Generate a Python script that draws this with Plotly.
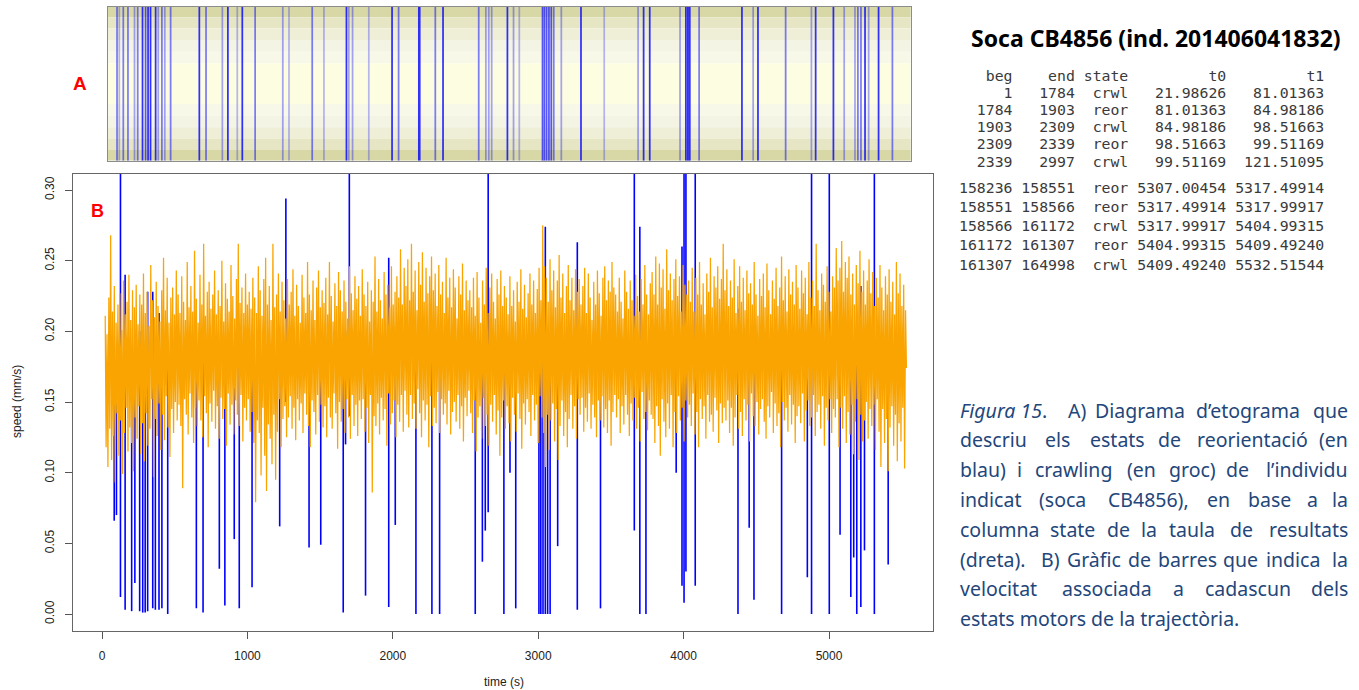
import plotly.graph_objects as go

W, H = 1359, 690

# ---------------- data ----------------
t_start, t_end = 21.98626, 5532.51544

# crawling speed, thousandths of mm/s, successive peaks / troughs of the orange trace
crwl_speed_milli = [
    211,118,198,104,224,131,268,109,214,126,232,93,206,142,219,112,227,137,201,99,
    236,128,212,146,221,115,240,132,208,121,229,101,217,139,233,124,205,147,226,113,
    219,135,241,108,213,142,228,119,204,131,247,152,222,97,210,138,235,126,218,149,
    207,116,229,141,252,123,215,154,238,132,206,111,224,145,231,128,212,150,243,137,
    226,148,213,133,239,89,221,152,208,141,249,127,217,156,232,139,214,121,257,146,
    223,133,206,151,240,137,219,125,262,154,211,142,228,118,235,149,216,136,226,158,
    243,131,212,147,229,124,218,153,250,138,207,145,234,119,223,156,214,134,247,148,
    225,127,209,151,237,141,262,133,220,155,231,122,213,146,241,137,219,152,228,129,
    216,143,238,121,224,79,213,137,246,128,229,98,211,146,237,112,252,87,219,134,
    232,124,208,106,262,141,217,95,226,129,241,152,214,118,235,138,222,147,209,125,
    237,139,219,154,228,131,244,146,211,123,233,152,218,137,206,149,240,128,224,156,
    213,141,249,133,226,118,215,151,236,143,208,127,231,155,243,136,217,148,229,132,
    220,147,238,125,212,153,249,139,225,131,207,156,234,142,218,117,242,150,229,136,
    214,145,236,128,221,152,209,139,246,124,227,155,215,133,239,148,223,126,232,151,
    211,138,244,152,226,129,218,146,235,121,207,155,229,86,221,140,253,133,214,149,
    237,127,222,153,209,137,242,145,226,119,233,156,217,134,246,142,219,151,228,125,
    239,148,224,136,258,155,219,129,245,158,232,141,251,132,222,155,262,138,228,149,
    243,131,215,159,249,142,233,125,256,151,221,137,245,148,227,118,239,154,253,133,
    229,146,241,135,218,157,247,128,226,152,235,141,213,149,252,134,224,158,238,127,
    217,143,244,150,231,136,209,155,239,131,226,147,248,122,215,153,236,140,222,158,
    229,142,217,128,238,151,211,115,242,139,224,147,206,124,236,153,219,133,245,141,
    213,119,231,148,241,136,221,155,209,127,237,144,226,112,243,139,218,151,232,131,
    224,147,212,135,239,122,218,153,229,141,207,129,235,156,221,138,244,117,216,149,
    233,134,210,152,227,143,241,126,219,155,236,137,213,148,230,121,245,154,222,139,
    275,128,246,104,238,141,221,116,251,137,229,149,243,122,217,145,236,109,254,133,
    224,151,241,126,213,143,232,118,247,138,222,155,238,131,215,147,244,124,228,152,
    237,141,219,153,232,129,245,146,213,136,241,156,224,131,208,148,235,139,219,125,
    243,151,227,137,211,154,238,132,246,145,222,128,236,151,228,119,249,143,231,155,
    226,139,214,152,238,128,221,147,209,134,243,155,228,141,216,126,236,149,222,137,
    211,153,240,131,225,146,214,122,237,157,219,138,247,143,226,130,212,151,234,141,
    242,138,226,121,253,147,219,133,248,112,231,152,244,136,216,125,258,149,229,131,
    241,155,222,118,237,143,251,128,225,154,239,137,214,146,247,122,233,151,226,139,
    236,148,221,133,245,156,214,127,238,143,226,118,249,152,219,138,234,147,212,124,
    241,155,228,136,252,141,217,129,239,153,231,144,246,121,223,149,237,135,262,146,
    229,137,244,151,218,128,236,146,224,119,251,139,213,155,232,131,246,143,221,126,
    238,152,215,137,243,148,227,122,234,156,219,140,249,133,226,150,211,127,237,145,
    225,152,241,136,217,124,248,147,229,139,212,157,236,128,223,149,245,133,218,142,
    231,118,253,150,222,137,239,146,214,129,244,155,226,134,235,148,219,121,247,140,
    231,147,216,135,243,156,227,122,238,144,212,151,249,133,224,139,236,155,218,126,
    262,143,229,148,215,131,241,154,233,119,221,146,246,137,228,152,214,128,239,145,
    231,139,259,152,236,118,245,146,264,131,228,154,249,121,238,143,253,127,226,148,
    241,113,219,136,247,152,234,109,257,141,228,122,243,137,219,150,236,124,251,145,
    227,133,242,148,218,116,238,152,224,129,247,104,231,145,215,121,239,138,226,101,
    244,132,221,147,235,119,212,141,249,108,227,135,241,122,218,146,233,103,215,174,
]

# reorientation events: start time (s), duration (s), min / max speed (mm/s)
reor_t = [82, 99, 125, 157, 203, 224, 255, 277, 292, 310, 345, 366, 390, 411, 450,
          645, 693, 806, 841, 909, 940, 1030, 1221, 1264, 1422, 1504, 1655, 1674, 1700,
          1812, 1968, 2015, 2150, 2267, 2318, 2565, 2615, 2635, 2655, 2760, 2805, 2845,
          3002, 3015, 3030, 3046, 3062, 3080, 3133, 3265, 3428, 3660, 3695, 3737, 3948,
          3983, 3996, 4010, 4078, 4370, 4450, 4480, 4672, 4850, 4876, 4998, 5075, 5149,
          5168, 5189, 5215, 5243, 5307, 5405]
reor_dur = [4, 1, 4, 4, 2, 4, 8, 6, 10, 8, 8, 2, 4, 2, 4,
            8, 4, 2, 8, 1, 8, 4, 2, 1, 4, 1, 8, 2, 2,
            1, 8, 4, 18, 4, 8, 4, 2, 2, 2, 8, 2, 1,
            6, 6, 6, 6, 6, 4, 2, 8, 1, 2, 8, 8, 2,
            12, 14, 12, 4, 8, 2, 8, 4, 2, 8, 8, 2, 2,
            4, 4, 8, 2, 10, 4]
reor_lo = [0.066, 0.070, 0.012, 0.003, 0.002, 0.022, 0.002, 0.001, 0.001, 0.002, 0.004, 0.003, 0.003, 0.004, 0.000,
           0.004, 0.001, 0.032, 0.006, 0.053, 0.004, 0.019, 0.062, 0.150, 0.047, 0.049, 0.001, 0.120, 0.140,
           0.013, 0.005, 0.063, 0.000, 0.000, 0.000, 0.000, 0.037, 0.059, 0.072, 0.000, 0.100, 0.004,
           0.000, 0.000, 0.000, 0.000, 0.000, 0.000, 0.048, 0.003, 0.004, 0.059, 0.000, 0.000, 0.100,
           0.020, 0.008, 0.030, 0.020, 0.000, 0.061, 0.010, 0.000, 0.026, 0.000, 0.000, 0.056, 0.012,
           0.040, 0.000, 0.005, 0.045, 0.000, 0.035]
reor_hi = [0.17, 0.16, 0.32, 0.240, 0.18, 0.19, 0.20, 0.17, 0.19, 0.228, 0.228, 0.17, 0.213, 0.16, 0.18,
           0.19, 0.18, 0.17, 0.19, 0.16, 0.20, 0.17, 0.18, 0.294, 0.18, 0.17, 0.19, 0.20, 0.32,
           0.17, 0.252, 0.18, 0.19, 0.18, 0.20, 0.18, 0.17, 0.18, 0.32, 0.19, 0.18, 0.17,
           0.20, 0.19, 0.21, 0.274, 0.20, 0.19, 0.18, 0.263, 0.17, 0.32, 0.274, 0.20, 0.19,
           0.26, 0.32, 0.32, 0.32, 0.216, 0.18, 0.19, 0.18, 0.19, 0.32, 0.32, 0.18, 0.17,
           0.19, 0.20, 0.232, 0.17, 0.32, 0.19]

x_ticks = [0, 1000, 2000, 3000, 4000, 5000]
y_ticks = [0.00, 0.05, 0.10, 0.15, 0.20, 0.25, 0.30]

tab_header = ["beg", "end", "state", "t0", "t1"]
tab_head_rows = [
    ["1", "1784", "crwl", "21.98626", "81.01363"],
    ["1784", "1903", "reor", "81.01363", "84.98186"],
    ["1903", "2309", "crwl", "84.98186", "98.51663"],
    ["2309", "2339", "reor", "98.51663", "99.51169"],
    ["2339", "2997", "crwl", "99.51169", "121.51095"],
]
tab_tail_rows = [
    ["158236", "158551", "reor", "5307.00454", "5317.49914"],
    ["158551", "158566", "reor", "5317.49914", "5317.99917"],
    ["158566", "161172", "crwl", "5317.99917", "5404.99315"],
    ["161172", "161307", "reor", "5404.99315", "5409.49240"],
    ["161307", "164998", "crwl", "5409.49240", "5532.51544"],
]

title_text = "Soca CB4856 (ind. 201406041832)"

# ---------------- figure ----------------
fig = go.Figure()

crwl_speed = [v / 1000 for v in crwl_speed_milli]
n = len(crwl_speed)
step = (t_end - t_start) / (n - 1)
crwl_t = [t_start + i * step for i in range(n)]

bx, by = [], []
for t, d, lo, hi in zip(reor_t, reor_dur, reor_lo, reor_hi):
    c = t + d / 2
    bx += [c, c, None]
    by += [lo, hi, None]
fig.add_trace(go.Scatter(x=bx, y=by, mode="lines",
                         line=dict(color="#0000FF", width=1.6),
                         hoverinfo="skip", showlegend=False, xaxis="x", yaxis="y"))

fig.add_trace(go.Scatter(x=crwl_t, y=crwl_speed, mode="lines",
                         line=dict(color="#F9A400", width=1.25),
                         hoverinfo="skip", showlegend=False, xaxis="x", yaxis="y"))

# invisible trace so the ethogram axes exist
fig.add_trace(go.Scatter(x=[t_start, t_end], y=[0, 1], mode="markers",
                         marker=dict(opacity=0), hoverinfo="skip", showlegend=False,
                         xaxis="x2", yaxis="y2"))

# ethogram background bands (top -> centre -> bottom)
A_top, A_bot = 6.7, 160.7
band_px = [6.7, 17.3, 28.3, 40.0, 51.7, 63.3, 104.0, 115.7, 127.3, 139.0, 150.0, 160.7]
band_col = ["#d8d8a6", "#e6e6c4", "#efefd8", "#f4f4e4", "#f8f8e8", "#fdfde2",
            "#f8f8e8", "#f4f4e4", "#efefd8", "#e6e6c4", "#d8d8a6"]
shapes = []
for i, col in enumerate(band_col):
    y0 = (A_bot - band_px[i + 1]) / (A_bot - A_top)
    y1 = (A_bot - band_px[i]) / (A_bot - A_top)
    shapes.append(dict(type="rect", xref="x2 domain", yref="y2", x0=0, x1=1, y0=y0, y1=y1,
                       fillcolor=col, line=dict(width=0), layer="below"))

# ethogram reorientation stripes (drawn in time coordinates of axis x2)
for t, d in zip(reor_t, reor_dur):
    c = t + d / 2
    w = max(d, 12)
    a = min(0.8, 0.2 + 0.075 * d)
    shapes.append(dict(type="rect", xref="x2", yref="y2", x0=c - w / 2, x1=c + w / 2,
                       y0=0, y1=1, fillcolor="rgba(0,0,255,%.2f)" % a,
                       line=dict(width=0), layer="below"))

# B axes geometry
B_left, B_right, B_top, B_bot = 73, 933, 173.5, 631
px0, px_per = 102, 0.1454
py0, py_per = 614, 1413.3
xr = [(B_left - px0) / px_per, (B_right - px0) / px_per]
yr = [(py0 - B_bot) / py_per, (py0 - B_top) / py_per]

axfont = dict(family="Liberation Sans, Arial", size=12, color="#222")

fig.update_layout(
    width=W, height=H, margin=dict(l=0, r=0, t=0, b=0),
    paper_bgcolor="white", plot_bgcolor="white",
    showlegend=False,
    shapes=shapes,
    xaxis=dict(domain=[B_left / W, B_right / W], range=xr, anchor="y",
               tickvals=x_ticks, ticktext=[str(v) for v in x_ticks],
               ticks="outside", ticklen=7, tickcolor="#555", tickwidth=1,
               showline=True, mirror=True, linecolor="#666", linewidth=1.3,
               showgrid=False, zeroline=False, tickfont=axfont, ticklabelstandoff=6),
    yaxis=dict(domain=[1 - B_bot / H, 1 - B_top / H], range=yr, anchor="x",
               tickvals=y_ticks, ticktext=["%.2f" % v for v in y_ticks],
               ticks="outside", ticklen=7, tickcolor="#555", tickwidth=1, tickangle=-90,
               showline=True, mirror=True, linecolor="#666", linewidth=1.3,
               showgrid=False, zeroline=False, tickfont=axfont, ticklabelstandoff=6),
    xaxis2=dict(domain=[108 / W, 910.7 / W], range=[t_start, t_end], anchor="y2",
                showticklabels=False, ticks="", showgrid=False, zeroline=False,
                showline=True, mirror=True, linecolor="#8c8c8c", linewidth=1),
    yaxis2=dict(domain=[1 - A_bot / H, 1 - A_top / H], range=[0, 1], anchor="x2",
                showticklabels=False, ticks="", showgrid=False, zeroline=False,
                showline=True, mirror=True, linecolor="#8c8c8c", linewidth=1),
)

ann = []


def txt(text, x, y, size, color="#000", family="Noto Sans", xanchor="center", angle=0):
    ann.append(dict(text=text, x=x / W, y=1 - y / H, xref="paper", yref="paper",
                    xanchor=xanchor, yanchor="middle", showarrow=False, textangle=angle,
                    font=dict(family=family, size=size, color=color)))


# axis titles
txt("speed (mm/s)", 17, 402, 12, "#222", "Liberation Sans, Arial", angle=-90)
txt("time (s)", 504, 682, 12, "#222", "Liberation Sans, Arial")

# panel letters
txt("<b>A</b>", 80, 84, 19, "#FF0000", "Liberation Sans, Arial")
txt("<b>B</b>", 97, 211, 18, "#FF0000", "Liberation Sans, Arial")

# title
txt("<b>%s</b>" % title_text, 1156, 38, 23, "#000", "Noto Sans")

# table (fixed-width rows, right edge of last column)
widths = [6, 6, 5, 10, 10]


def fmt(row):
    s = " ".join(v.rjust(w) for v, w in zip(row, widths))
    return s.replace(" ", "\u00a0")


mono = "DejaVu Sans Mono, Liberation Mono, monospace"
tab_right = 1326
tab_col = "#3a3a3a"
rows = [tab_header] + tab_head_rows
for i, r in enumerate(rows):
    txt(fmt(r), tab_right, 75 + i * 17.2, 14.8, tab_col, mono, xanchor="right")
for i, r in enumerate(tab_tail_rows):
    txt(fmt(r), tab_right, 187 + i * 19.25, 14.8, tab_col, mono, xanchor="right")

# caption, justified by placing words
cap_col = "#23467a"
cap_font = "Noto Sans"
cap_size = 19.5
L, R = 958, 1350
caption = [
    [("<i>Figura 15</i>.", "l", L), ("A)", "c", 1077), ("Diagrama", "c", 1140), ("d’etograma", "c", 1247.5), ("que", "r", R)],
    [("descriu", "l", L), ("els", "c", 1057), ("estats", "c", 1117), ("de", "c", 1169), ("reorientació", "c", 1252), ("(en", "r", R)],
    [("blau)", "l", L), ("i", "c", 1019), ("crawling", "c", 1073), ("(en", "c", 1141), ("groc)", "c", 1192), ("de", "c", 1237), ("l’individu", "r", R)],
    [("indicat", "l", L), ("(soca", "c", 1062), ("CB4856),", "c", 1148), ("en", "c", 1218), ("base", "c", 1269), ("a", "c", 1312), ("la", "r", R)],
    [("columna", "l", L), ("state", "c", 1072), ("de", "c", 1118), ("la", "c", 1149), ("taula", "c", 1192), ("de", "c", 1241), ("resultats", "r", R)],
    [("(dreta).", "l", L), ("B)", "c", 1050), ("Gràfic", "c", 1094), ("de", "c", 1139), ("barres", "c", 1187), ("que", "c", 1240), ("indica", "c", 1293), ("la", "r", R)],
    [("velocitat", "l", L), ("associada", "c", 1107), ("a", "c", 1178), ("cadascun", "c", 1248), ("dels", "r", R)],
    [("estats motors de la trajectòria.", "l", L)],
]
anch = {"l": "left", "c": "center", "r": "right"}
for i, line in enumerate(caption):
    for w, a, x in line:
        txt(w, x, 410 + i * 29.8, cap_size, cap_col, cap_font, xanchor=anch[a])

fig.update_layout(annotations=ann)
fig.write_html("out.html")
